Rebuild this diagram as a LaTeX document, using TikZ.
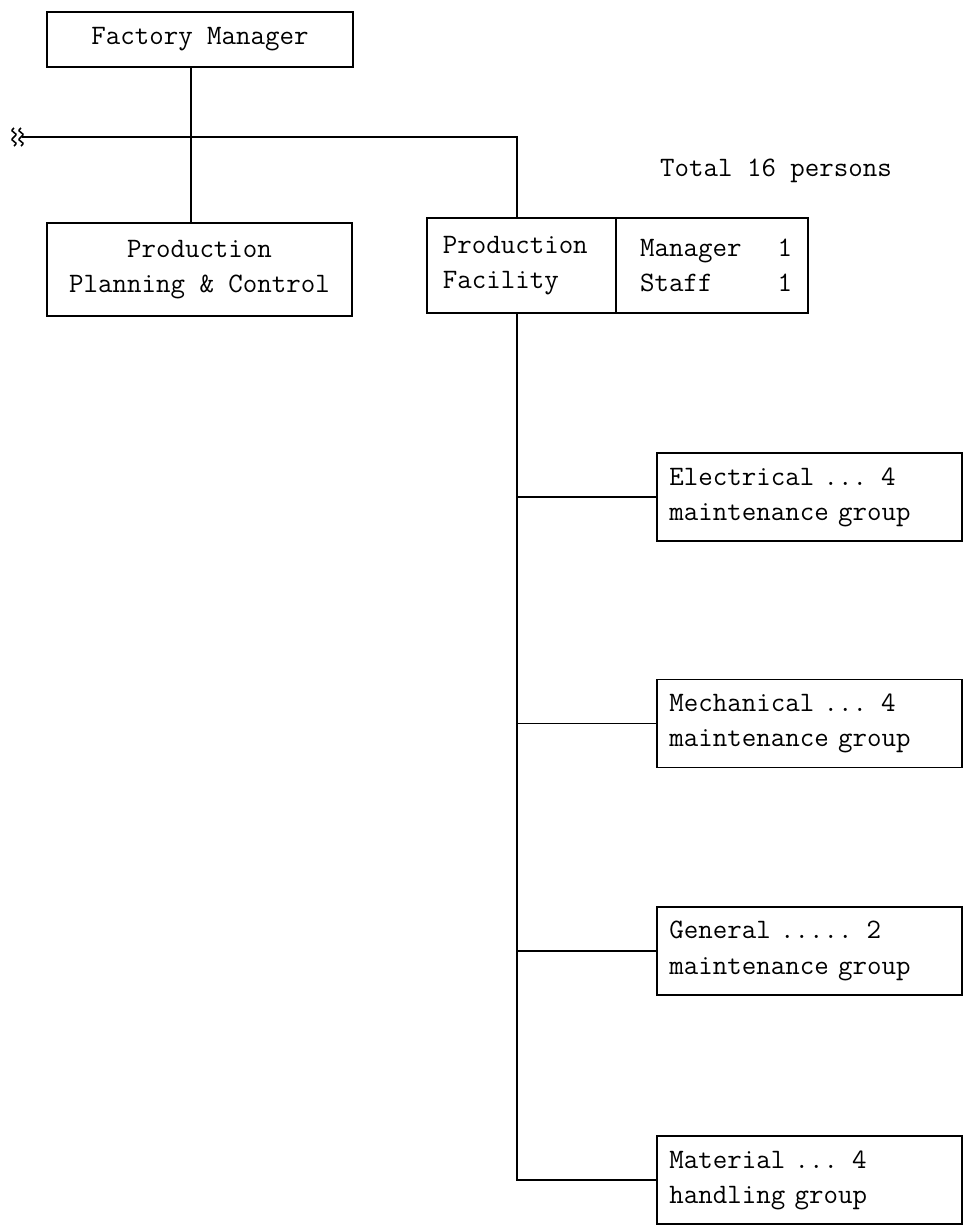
\documentclass[tikz,border=0pt]{standalone}
\usepackage{fontspec}
\usetikzlibrary{positioning}

\tikzset{
  orgbox/.style={draw, line width=1.2pt, font=\fontsize{20}{25}\selectfont\ttfamily, inner sep=0pt},
  grpbox/.style={orgbox, align=left, text width=7.0cm, minimum width=7.63cm, minimum height=2.2cm},
  wire/.style={line width=1.2pt}
}

\begin{document}
\begin{tikzpicture}[x=0.025cm, y=-0.025cm]
	\useasboundingbox (0,0) rectangle (966,1226);

	% top: factory manager and planning
	\node[orgbox, minimum width=7.65cm, minimum height=1.38cm] (fm) at (200,39.5) {Factory Manager};
	\node[orgbox, align=center, minimum width=7.63cm, minimum height=2.33cm] (ppc) at (199.5,269.5) {Production\\Planning \& Control};

	% production facility, split in two parts
	\node[orgbox, align=left, text width=3.93cm, minimum height=2.38cm, inner xsep=0.4cm] (pfl) at (521.5,265.5) {Production\\Facility};
	\node[orgbox, align=left, text width=4.0cm, minimum height=2.38cm, inner xsep=0.4cm, right=-1.2pt of pfl] (pfr) {\hspace{0.2cm}Manager\hfill 1\\\hspace{0.2cm}Staff\hfill 1};

	\node[font=\fontsize{20}{25}\selectfont\ttfamily] (total) at (776,171) {Total 16 persons};

	% maintenance groups
	\node[grpbox] (elec) at (809.5,497) {Electrical ... 4\\maintenance group};
	\node[grpbox] (mech) at (809.5,723.5) {Mechanical ... 4\\maintenance group};
	\node[grpbox] (gen)  at (809.5,951) {General ..... 2\\maintenance group};
	\node[grpbox] (mat)  at (809.5,1180) {Material ... 4\\handling group};

	% connectors
	\coordinate (brk) at (22,137);
	\coordinate (left) at (191,137);
	\coordinate (trunk) at (517,137);
	\draw[wire] (fm.south -| left) -- (ppc.north -| left);
	\draw[wire] (brk) -- (trunk) -- (trunk |- pfl.north);
	\draw[wire] (pfl.south -| trunk) -- (trunk |- mat.west) -- (mat.west);
	\foreach \g in {elec, mech, gen}
		\draw[wire] (trunk |- \g.west) -- (\g.west);

	% break mark on the left end
	\draw[line width=1.1pt] (brk) ++(-8,-9) .. controls ++(-7,5) and ++(7,-5) .. ++(0,9) .. controls ++(-7,5) and ++(7,-5) .. ++(0,9);
	\draw[line width=1.1pt] (brk) ++(-1,-9) .. controls ++(-7,5) and ++(7,-5) .. ++(0,9) .. controls ++(-7,5) and ++(7,-5) .. ++(0,9);
\end{tikzpicture}
\end{document}
